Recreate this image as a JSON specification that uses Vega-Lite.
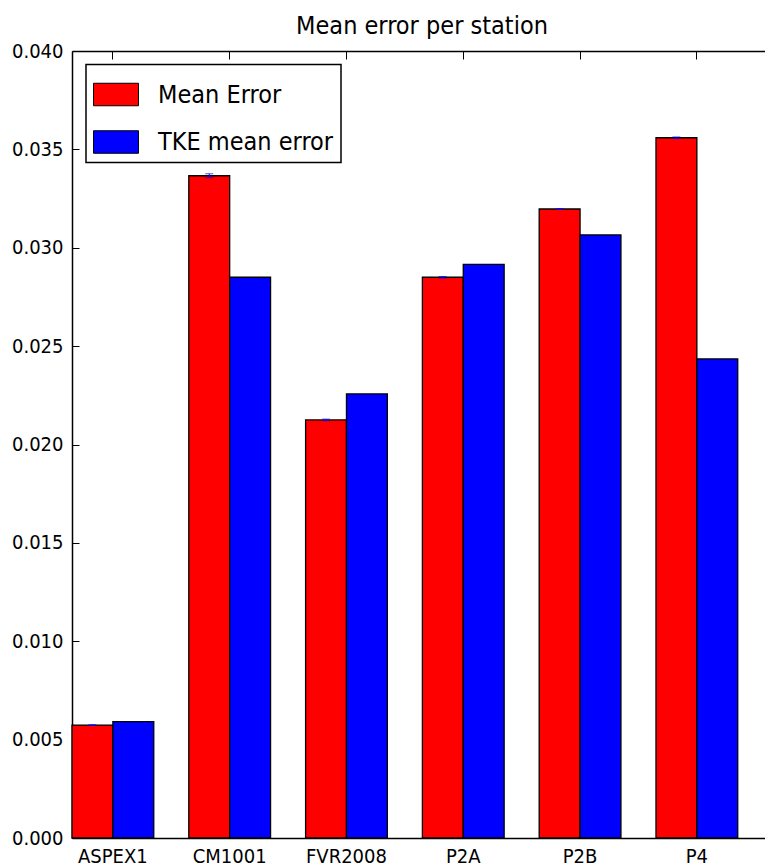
{
  "$schema": "https://vega.github.io/schema/vega-lite/v6.json",
  "width": 693,
  "height": 787,
  "autosize": {"type": "none"},
  "padding": {"left": 72, "top": 51, "right": 0, "bottom": 30},
  "title": {"text": "Mean error per station", "font": "DejaVu Sans Condensed", "fontSize": 25, "fontWeight": "normal", "color": "black", "anchor": "middle", "baseline": "alphabetic", "offset": -18, "dx": 3.5},
  "config": {"view": {"stroke": null}, "font": "DejaVu Sans Condensed"},
  "data": {"values": [
    {"station": "ASPEX1", "series": "Mean Error", "value": 0.00574, "err": 0.00002},
    {"station": "ASPEX1", "series": "TKE mean error", "value": 0.00591},
    {"station": "CM1001", "series": "Mean Error", "value": 0.03366, "err": 0.0001},
    {"station": "CM1001", "series": "TKE mean error", "value": 0.0285},
    {"station": "FVR2008", "series": "Mean Error", "value": 0.02125, "err": 0.00004},
    {"station": "FVR2008", "series": "TKE mean error", "value": 0.02257},
    {"station": "P2A", "series": "Mean Error", "value": 0.0285, "err": 0.00004},
    {"station": "P2A", "series": "TKE mean error", "value": 0.02916},
    {"station": "P2B", "series": "Mean Error", "value": 0.03197, "err": 0.00002},
    {"station": "P2B", "series": "TKE mean error", "value": 0.03065},
    {"station": "P4", "series": "Mean Error", "value": 0.03559, "err": 0.00004},
    {"station": "P4", "series": "TKE mean error", "value": 0.02435}
  ]},
  "layer": [
    {
      "mark": {"type": "bar", "stroke": "black", "strokeWidth": 1.3},
      "encoding": {
        "x": {"field": "station", "type": "nominal", "sort": null,
          "scale": {"paddingInner": 0.3, "paddingOuter": 0.1167, "align": 0},
          "axis": {"orient": "bottom", "title": null, "ticks": false, "labelAngle": 0, "labelFontSize": 20, "labelFont": "DejaVu Sans Condensed", "labelColor": "black", "labelPadding": 8, "domainColor": "black", "domainWidth": 1.5}},
        "xOffset": {"field": "series", "type": "nominal", "sort": ["Mean Error", "TKE mean error"], "scale": {"paddingInner": 0, "paddingOuter": 0}},
        "y": {"field": "value", "type": "quantitative", "scale": {"domain": [0, 0.04], "nice": false},
          "axis": {"title": null, "values": [0, 0.005, 0.01, 0.015, 0.02, 0.025, 0.03, 0.035, 0.04], "format": ".3f", "grid": false, "tickSize": -7, "tickColor": "black", "domainColor": "black", "domainWidth": 1.5, "labelFontSize": 20, "labelFont": "DejaVu Sans Condensed", "labelColor": "black", "labelPadding": 16}},
        "color": {"field": "series", "type": "nominal",
          "scale": {"domain": ["Mean Error", "TKE mean error"], "range": ["#ff0000", "#0000ff"]},
          "legend": {"orient": "none", "legendX": 14, "legendY": 13.5, "title": null, "symbolType": "M-1,-0.5H1V0.5H-1Z", "symbolSize": 2025, "symbolStrokeColor": "black", "symbolStrokeWidth": 1, "symbolOpacity": 1, "labelFontSize": 25, "labelFont": "DejaVu Sans Condensed", "labelColor": "black", "labelOffset": 19, "strokeColor": "black", "fillColor": "white", "padding": 7, "rowPadding": 10.5, "cornerRadius": 0, "labelLimit": 400,
            "encode": {"legend": {"update": {"strokeWidth": {"value": 1.5}}}}}}
      }
    },
    {
      "transform": [{"filter": "datum.series === 'Mean Error'"}],
      "mark": {"type": "errorbar", "color": "#0000ff", "ticks": {"size": 8, "color": "#0000ff"}},
      "encoding": {
        "x": {"field": "station", "type": "nominal", "sort": null,
          "axis": {"orient": "top", "title": null, "labels": false, "tickSize": -8, "tickColor": "black", "domainColor": "black", "domainWidth": 1.5}},
        "xOffset": {"field": "series", "type": "nominal", "sort": ["Mean Error", "TKE mean error"]},
        "y": {"field": "value", "type": "quantitative"},
        "yError": {"field": "err"}
      }
    }
  ]
}
